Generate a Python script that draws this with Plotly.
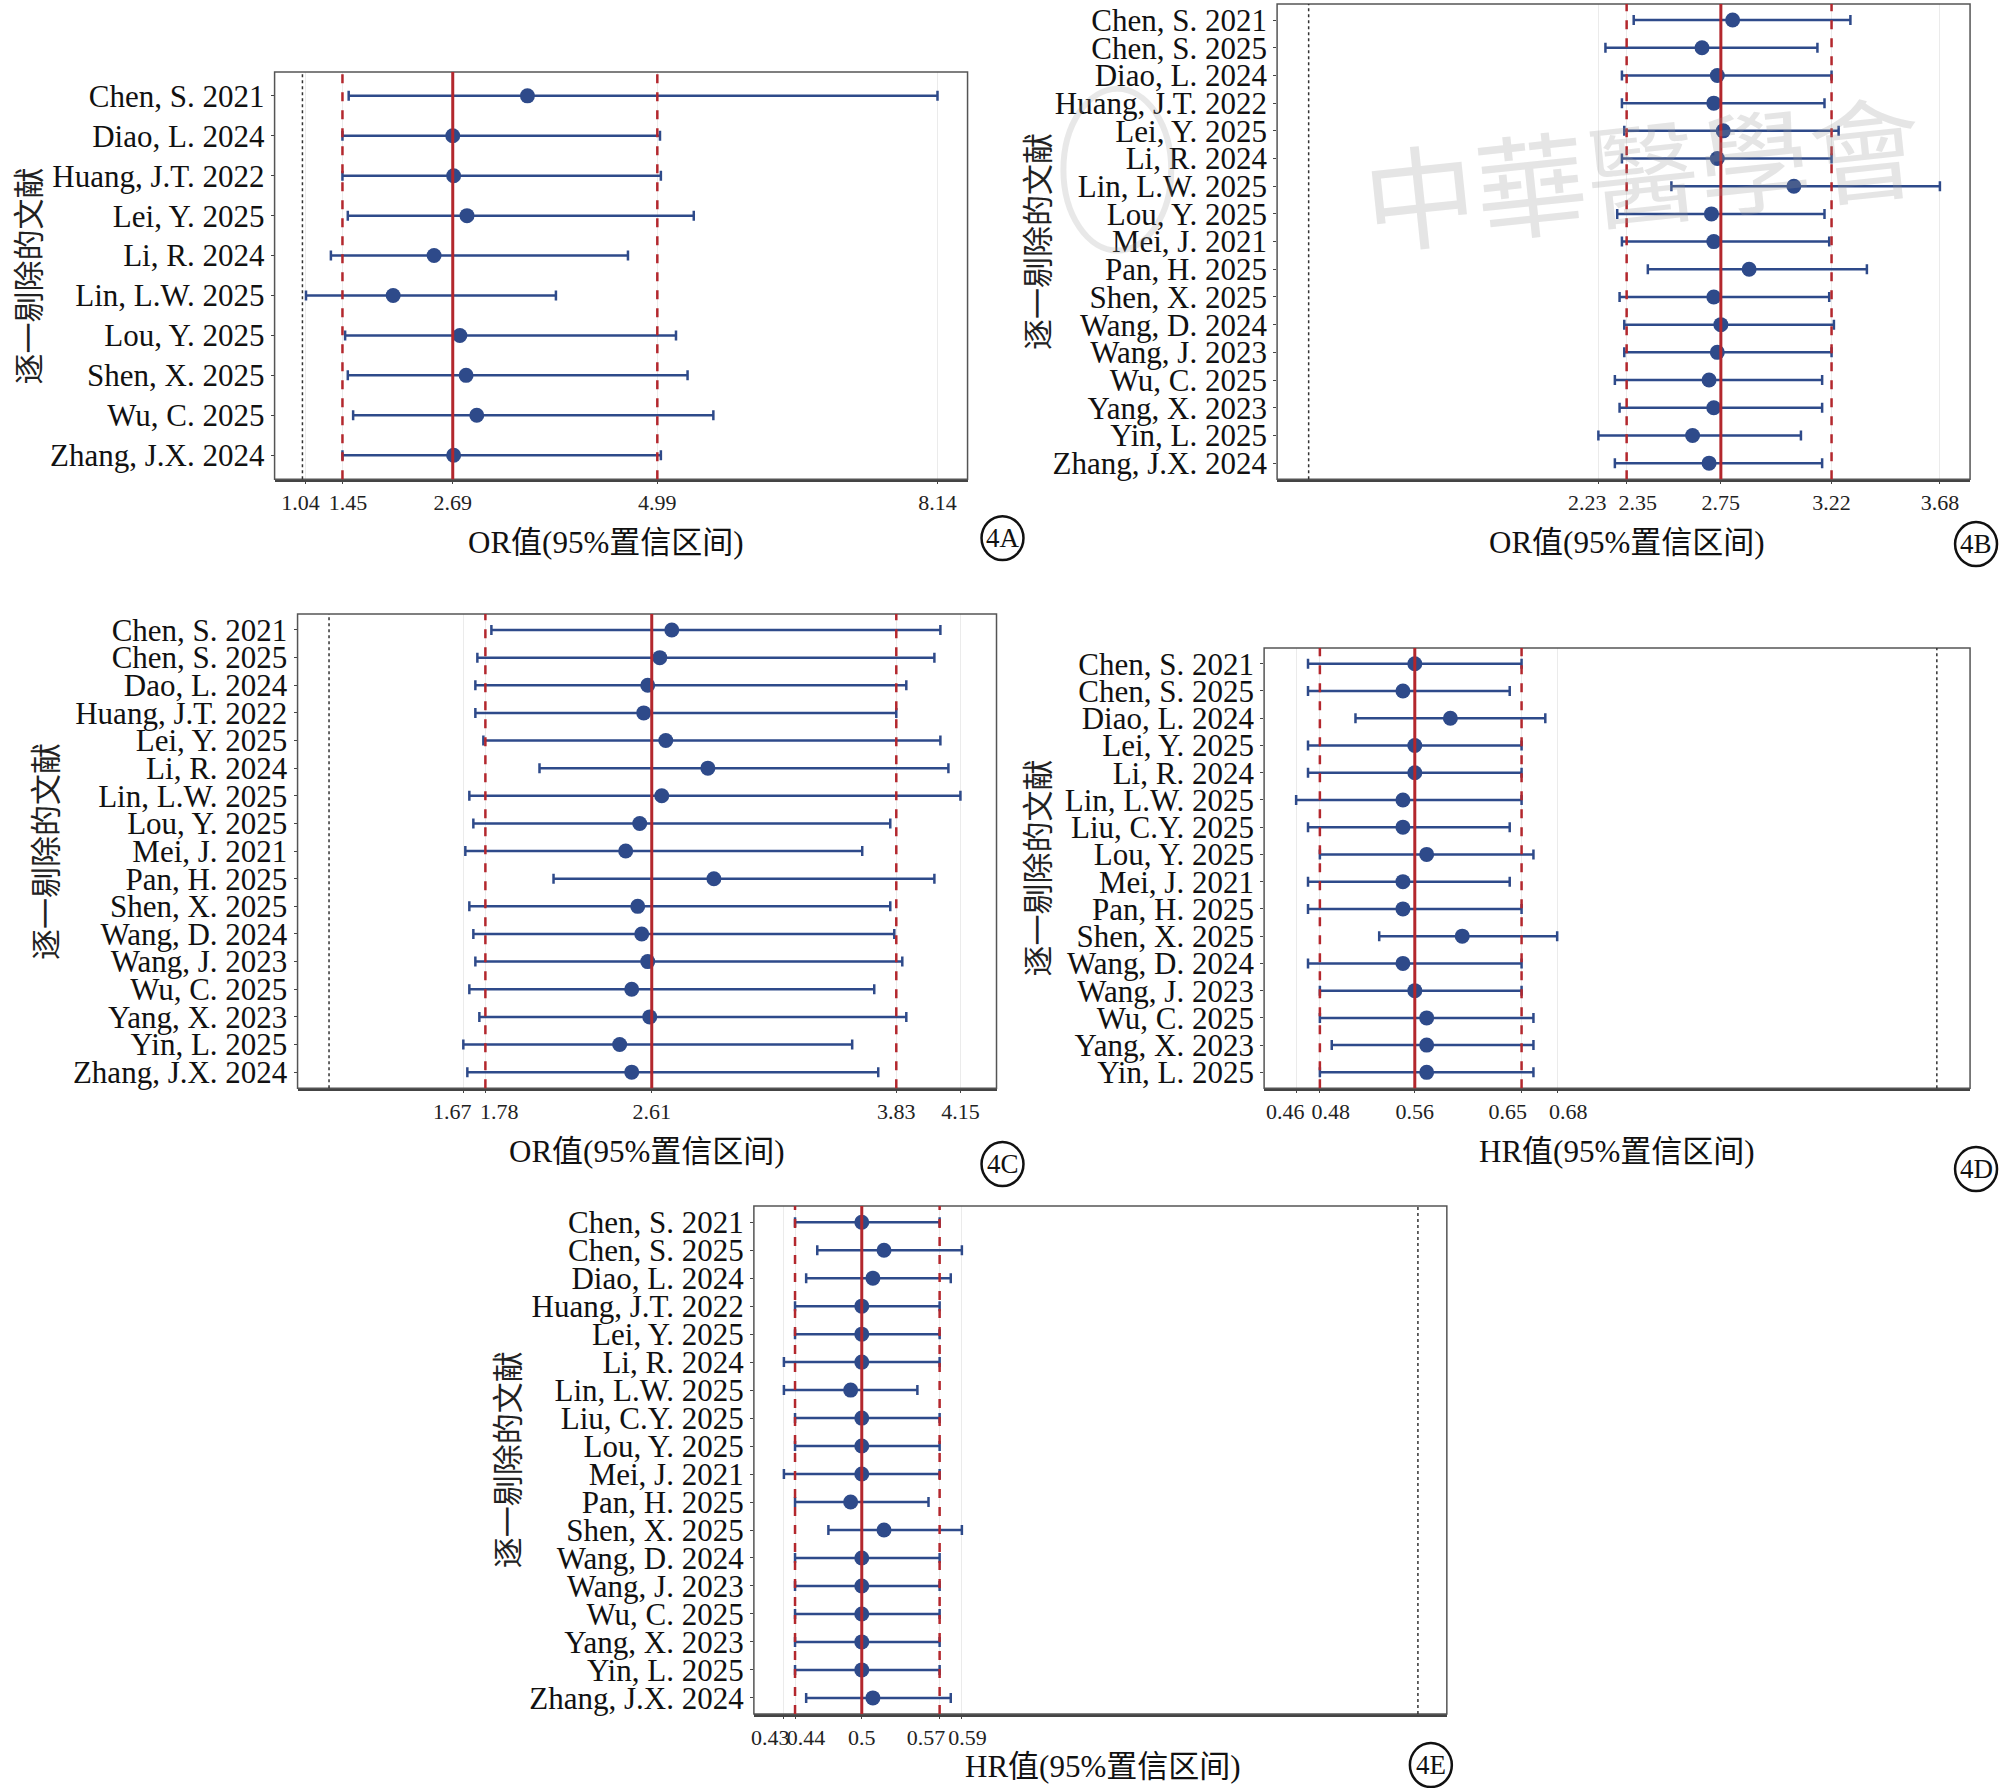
import plotly.graph_objects as go

W, H = 2008, 1788

# ---- panel 4A (OR) ----
a_labels = ["Chen, S. 2021", "Diao, L. 2024", "Huang, J.T. 2022", "Lei, Y. 2025", "Li, R. 2024",
            "Lin, L.W. 2025", "Lou, Y. 2025", "Shen, X. 2025", "Wu, C. 2025", "Zhang, J.X. 2024"]
a_est = [3.53, 2.69, 2.70, 2.85, 2.48, 2.02, 2.77, 2.84, 2.96, 2.70]
a_lo = [1.52, 1.45, 1.45, 1.51, 1.32, 1.04, 1.48, 1.51, 1.57, 1.45]
a_hi = [8.14, 5.02, 5.03, 5.40, 4.66, 3.85, 5.20, 5.33, 5.62, 5.03]
a_pooled = [1.45, 2.69, 4.99]
a_ticks = [1.04, 1.45, 2.69, 4.99, 8.14]
a_ticktext = ["1.04", "1.45", "2.69", "4.99", "8.14"]

# ---- panel 4B (OR) ----
b_labels = ["Chen, S. 2021", "Chen, S. 2025", "Diao, L. 2024", "Huang, J.T. 2022", "Lei, Y. 2025",
            "Li, R. 2024", "Lin, L.W. 2025", "Lou, Y. 2025", "Mei, J. 2021", "Pan, H. 2025",
            "Shen, X. 2025", "Wang, D. 2024", "Wang, J. 2023", "Wu, C. 2025", "Yang, X. 2023",
            "Yin, L. 2025", "Zhang, J.X. 2024"]
b_est = [2.80, 2.67, 2.735, 2.72, 2.76, 2.735, 3.06, 2.71, 2.72, 2.87, 2.72, 2.75, 2.735, 2.70, 2.72, 2.63, 2.70]
b_lo = [2.38, 2.26, 2.33, 2.33, 2.34, 2.33, 2.54, 2.31, 2.33, 2.44, 2.32, 2.34, 2.34, 2.30, 2.32, 2.23, 2.30]
b_hi = [3.30, 3.16, 3.22, 3.19, 3.25, 3.22, 3.68, 3.19, 3.21, 3.37, 3.21, 3.23, 3.22, 3.18, 3.18, 3.09, 3.18]
b_pooled = [2.35, 2.75, 3.22]
b_ticks = [2.23, 2.35, 2.75, 3.22, 3.68]
b_ticktext = ["2.23", "2.35", "2.75", "3.22", "3.68"]

# ---- panel 4C (OR) ----
c_labels = ["Chen, S. 2021", "Chen, S. 2025", "Dao, L. 2024", "Huang, J.T. 2022", "Lei, Y. 2025",
            "Li, R. 2024", "Lin, L.W. 2025", "Lou, Y. 2025", "Mei, J. 2021", "Pan, H. 2025",
            "Shen, X. 2025", "Wang, D. 2024", "Wang, J. 2023", "Wu, C. 2025", "Yang, X. 2023",
            "Yin, L. 2025", "Zhang, J.X. 2024"]
c_est = [2.71, 2.65, 2.59, 2.57, 2.68, 2.89, 2.66, 2.55, 2.48, 2.92, 2.54, 2.56, 2.59, 2.51, 2.60, 2.45, 2.51]
c_lo = [1.81, 1.74, 1.73, 1.73, 1.77, 2.05, 1.70, 1.72, 1.68, 2.12, 1.70, 1.72, 1.73, 1.70, 1.75, 1.67, 1.69]
c_hi = [4.05, 4.02, 3.88, 3.83, 4.05, 4.09, 4.15, 3.80, 3.66, 4.02, 3.80, 3.82, 3.86, 3.72, 3.88, 3.61, 3.74]
c_pooled = [1.78, 2.61, 3.83]
c_ticks = [1.67, 1.78, 2.61, 3.83, 4.15]
c_ticktext = ["1.67", "1.78", "2.61", "3.83", "4.15"]

# ---- panel 4D (HR) ----
d_labels = ["Chen, S. 2021", "Chen, S. 2025", "Diao, L. 2024", "Lei, Y. 2025", "Li, R. 2024",
            "Lin, L.W. 2025", "Liu, C.Y. 2025", "Lou, Y. 2025", "Mei, J. 2021", "Pan, H. 2025",
            "Shen, X. 2025", "Wang, D. 2024", "Wang, J. 2023", "Wu, C. 2025", "Yang, X. 2023",
            "Yin, L. 2025"]
d_est = [0.56, 0.55, 0.59, 0.56, 0.56, 0.55, 0.55, 0.57, 0.55, 0.55, 0.60, 0.55, 0.56, 0.57, 0.57, 0.57]
d_lo = [0.47, 0.47, 0.51, 0.47, 0.47, 0.46, 0.47, 0.48, 0.47, 0.47, 0.53, 0.47, 0.48, 0.48, 0.49, 0.48]
d_hi = [0.65, 0.64, 0.67, 0.65, 0.65, 0.65, 0.64, 0.66, 0.64, 0.65, 0.68, 0.65, 0.65, 0.66, 0.66, 0.66]
d_pooled = [0.48, 0.56, 0.65]
d_ticks = [0.46, 0.48, 0.56, 0.65, 0.68]
d_ticktext = ["0.46", "0.48", "0.56", "0.65", "0.68"]

# ---- panel 4E (HR) ----
e_labels = ["Chen, S. 2021", "Chen, S. 2025", "Diao, L. 2024", "Huang, J.T. 2022", "Lei, Y. 2025",
            "Li, R. 2024", "Lin, L.W. 2025", "Liu, C.Y. 2025", "Lou, Y. 2025", "Mei, J. 2021",
            "Pan, H. 2025", "Shen, X. 2025", "Wang, D. 2024", "Wang, J. 2023", "Wu, C. 2025",
            "Yang, X. 2023", "Yin, L. 2025", "Zhang, J.X. 2024"]
e_est = [0.50, 0.52, 0.51, 0.50, 0.50, 0.50, 0.49, 0.50, 0.50, 0.50, 0.49, 0.52, 0.50, 0.50, 0.50, 0.50, 0.50, 0.51]
e_lo = [0.44, 0.46, 0.45, 0.44, 0.44, 0.43, 0.43, 0.44, 0.44, 0.43, 0.44, 0.47, 0.44, 0.44, 0.44, 0.44, 0.44, 0.45]
e_hi = [0.57, 0.59, 0.58, 0.57, 0.57, 0.57, 0.55, 0.57, 0.57, 0.57, 0.56, 0.59, 0.57, 0.57, 0.57, 0.57, 0.57, 0.58]
e_pooled = [0.44, 0.50, 0.57]
e_ticks = [0.43, 0.44, 0.50, 0.57, 0.59]
e_ticktext = ["0.43", "0.44", "0.5", "0.57", "0.59"]

SERIF = "Liberation Serif, Times New Roman, serif"
CJK = "Liberation Serif, Noto Sans CJK SC, serif"
NAVY = "#2E4A8A"
RED = "#B3272D"
NBSP = "\u00a0"

fig = go.Figure()
shapes = []
annotations = []
layout = {}


def label(text, x, y, size, family=CJK, color="#111", angle=0):
    """Centered paper-space text annotation (x, y in pixels from top-left)"""
    annotations.append(dict(text=text, xref="paper", yref="paper", x=x / W, y=1 - y / H,
                            xanchor="center", yanchor="middle", showarrow=False, textangle=angle,
                            font=dict(family=family, size=size, color=color)))


def nudge(texts, shifts):
    """Push crowded tick labels apart with non-breaking spaces (shift in px)"""
    out = []
    for t, s in zip(texts, shifts):
        k = int(round(abs(s) / 2.75))
        out.append(t + NBSP * k if s < 0 else NBSP * k + t)
    return out


def add_panel(i, labels, est, lo, hi, pooled, ticks, ticktext, shifts, xrange, box, xtitle_x,
              xtitle, tag, tagpos, ytitle_x, pad=0.58):
    """Draw one forest panel; box = (left, top, right, bottom) in pixels"""
    xa = "xaxis" if i == 1 else f"xaxis{i}"
    ya = "yaxis" if i == 1 else f"yaxis{i}"
    xr = "x" if i == 1 else f"x{i}"
    yr = "y" if i == 1 else f"y{i}"
    n = len(labels)
    left, top, right, bottom = box

    fig.add_trace(go.Scatter(
        x=est, y=list(range(n)), mode="markers",
        marker=dict(color=NAVY, size=15),
        error_x=dict(type="data", symmetric=False,
                     array=[h - e for h, e in zip(hi, est)],
                     arrayminus=[e - l for e, l in zip(est, lo)],
                     color=NAVY, thickness=2.5, width=5),
        xaxis=xr, yaxis=yr, showlegend=False, cliponaxis=False))

    layout[xa] = dict(
        domain=[left / W, right / W], range=xrange, anchor=yr,
        tickvals=ticks, ticktext=nudge(ticktext, shifts), tickangle=0,
        tickfont=dict(family=SERIF, size=22, color="#222"),
        showgrid=True, gridcolor="#EBEBEB", gridwidth=1, zeroline=False,
        ticks="outside", ticklen=2, tickcolor="#444",
        showline=True, linecolor="#444", linewidth=2.5, mirror=False)
    layout[ya] = dict(
        domain=[1 - bottom / H, 1 - top / H], range=[n - 1 + pad, -pad], anchor=xr,
        tickvals=list(range(n)), ticktext=labels,
        tickfont=dict(family=SERIF, size=31, color="#111"),
        showgrid=False, zeroline=False,
        ticks="outside", ticklen=3, tickcolor="#444",
        showline=False)

    # frame
    shapes.append(dict(type="rect", xref=f"{xr} domain", yref=f"{yr} domain",
                       x0=0, x1=1, y0=0, y1=1, line=dict(color="#555", width=1.5), layer="above"))
    # null line at 1
    shapes.append(dict(type="line", xref=xr, yref=f"{yr} domain", x0=1, x1=1, y0=0, y1=1,
                       line=dict(color="#333", width=1.5, dash="dot"), layer="above"))
    # pooled estimate and CI
    for k, v in enumerate(pooled):
        shapes.append(dict(type="line", xref=xr, yref=f"{yr} domain", x0=v, x1=v, y0=0, y1=1,
                           line=dict(color=RED, width=3 if k == 1 else 2.5,
                                     dash="solid" if k == 1 else "dash"), layer="above"))

    # axis titles
    label(xtitle, xtitle_x, min(bottom + 63, 1768), 31)
    label("逐一剔除的文献", ytitle_x, (top + bottom) / 2, 31, family="Noto Sans CJK SC",
          color="#222", angle=-90)
    # circled panel tag
    cx, cy = tagpos
    shapes.append(dict(type="circle", xref="paper", yref="paper",
                       x0=(cx - 21) / W, x1=(cx + 21) / W, y0=1 - (cy + 22) / H, y1=1 - (cy - 22) / H,
                       line=dict(color="#111", width=2.5)))
    label(tag, cx, cy, 27, family=SERIF)


add_panel(1, a_labels, a_est, a_lo, a_hi, a_pooled, a_ticks, a_ticktext, [-5, 5, 0, 0, 0],
          [0.687, 8.478], (272, 71, 966, 479), 604, "OR值(95%置信区间)", "4A", (1001, 538), 24, pad=0.6)
add_panel(2, b_labels, b_est, b_lo, b_hi, b_pooled, b_ticks, b_ticktext, [-12, 10, 0, 0, 0],
          [0.866, 3.808], (1276, 3, 1970, 479), 1626, "OR值(95%置信区间)", "4B", (1976, 544), 1034)
add_panel(3, c_labels, c_est, c_lo, c_hi, c_pooled, c_ticks, c_ticktext, [-10, 13, 0, 0, 0],
          [0.843, 4.33], (295, 614, 995, 1089), 645, "OR值(95%置信区间)", "4C", (1001, 1165), 40)
add_panel(4, d_labels, d_est, d_lo, d_hi, d_pooled, d_ticks, d_ticktext, [-12, 12, 0, -13, 11],
          [0.433, 1.028], (1263, 648, 1970, 1089), 1616, "HR值(95%置信区间)", "4D", (1976, 1170), 1034)
add_panel(5, e_labels, e_est, e_lo, e_hi, e_pooled, e_ticks, e_ticktext, [-15, 10, 0, -15, 5],
          [0.403, 1.026], (752, 1207, 1446, 1716), 1102, "HR值(95%置信区间)", "4E", (1430, 1767), 503)

# faint watermark on panel B
label("中華醫學會", 1641, 167, 112, family="Noto Sans CJK TC", color="rgba(150,150,150,0.25)", angle=-6)
shapes.append(dict(type="circle", xref="paper", yref="paper",
                   x0=1062 / W, x1=1170 / W, y0=1 - 250 / H, y1=1 - 88 / H,
                   line=dict(color="rgba(150,150,150,0.22)", width=6)))

fig.update_layout(
    width=W, height=H, autosize=False,
    margin=dict(l=0, r=0, t=0, b=0),
    paper_bgcolor="white", plot_bgcolor="white",
    shapes=shapes, annotations=annotations,
    **layout)

fig.write_html("out.html", config={"displayModeBar": False},
               post_script="document.body.style.margin='0';")
